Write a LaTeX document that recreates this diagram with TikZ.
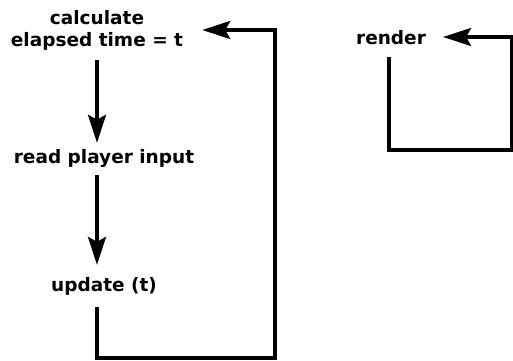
\documentclass[tikz,border=0pt]{standalone}
\usepackage{fontspec}
\setmainfont{DejaVu Sans}
\usetikzlibrary{arrows.meta}
\begin{document}
\begin{tikzpicture}[x=1pt,y=-1pt,
  label/.style={font=\bfseries\fontsize{18.5}{22}\selectfont, align=center, inner sep=0pt},
  flow/.style={line width=3.4pt, line join=miter},
  tip/.style={-{Stealth[length=28pt,width=18pt,inset=5pt]}}]
  \useasboundingbox (0,0) rectangle (513,360);

  % main loop steps
  \node[label] (calc) at (97,30) {calculate\\elapsed time = t};
  \node[label] (read) at (104,158) {read player input};
  \node[label] (upd) at (104,286) {update (t)};
  % render loop
  \node[label] (rend) at (391,38) {render};

  % corners of the return paths
  \coordinate (a1) at (97,358);
  \coordinate (a2) at (275,358);
  \coordinate (a3) at (275,30);
  \coordinate (b1) at (389,150);
  \coordinate (b2) at (512,150);
  \coordinate (b3) at (512,37);

  \draw[flow,tip,shorten <=10pt,shorten >=6pt] (calc.south) -- (calc.south |- read.north);
  \draw[flow,tip,shorten <=8pt,shorten >=12pt] (calc.south |- read.south) -- (calc.south |- upd.north);
  \draw[flow,tip,shorten >=19pt] (calc.south |- upd.south) ++(0,12) -- (a1) -- (a2) -- (a3) -- (a3 -| calc.east);
  \draw[flow,tip,shorten >=17pt] (rend.south -| b1) ++(0,12) -- (b1) -- (b2) -- (b3) -- (b3 -| rend.east);
\end{tikzpicture}
\end{document}
